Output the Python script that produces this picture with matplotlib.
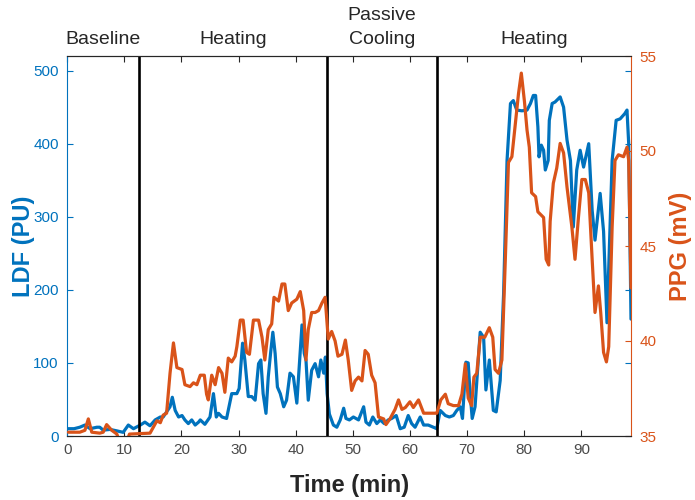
import numpy as np
import matplotlib.pyplot as plt

plt.rcParams['font.family'] = ['Liberation Sans', 'DejaVu Sans']

# ---------------------------------------------------------
# data (time in min)
# ---------------------------------------------------------
ldf_t = [0.2, 1.2, 2.2, 3.1, 4.0, 5.2, 5.7, 6.3, 7.5, 8.7, 9.8, 10.7, 11.6, 12.8, 13.6, 14.5,
         15.4, 16.3, 16.8, 17.4, 18.0, 18.4, 18.9, 19.5, 20.1, 20.6, 21.2, 21.8, 22.4, 23.0,
         23.3, 24.1, 25.0, 25.6, 26.1, 26.5, 27.1, 27.9, 28.8, 29.7, 30.1, 30.7, 31.1, 31.7,
         32.3, 32.9, 33.5, 33.9, 34.3, 34.8, 35.2, 35.6, 36.0, 36.4, 36.8, 37.3, 37.9, 38.4,
         39.0, 39.6, 40.2, 40.7, 41.1, 41.5, 41.8, 42.2, 42.8, 43.4, 44.0, 44.4, 44.9, 45.2,
         45.5, 45.9, 46.6, 47.2, 47.8, 48.4, 48.8, 49.4, 50.1, 51.0, 51.9, 52.3, 52.9, 53.5,
         54.2, 54.8, 55.5, 56.2, 56.8, 57.6, 58.3, 59.0, 59.7, 60.3, 60.9, 61.8, 62.4, 63.2,
         64.1, 64.7, 65.3, 66.2, 66.9, 67.6, 68.2, 68.8, 69.2, 69.8, 70.2, 70.5, 70.9, 71.4,
         72.3, 72.9, 73.3, 73.9, 74.6, 75.1, 75.8, 76.4, 77.0, 77.6, 78.1, 78.7, 79.6, 80.5,
         81.1, 81.6, 82.0, 82.4, 82.6, 83.0, 83.4, 83.7, 84.2, 84.4, 84.9, 85.4, 86.3, 86.9,
         87.5, 88.1, 88.6, 89.2, 89.8, 90.4, 91.3, 91.9, 92.4, 93.3, 93.9, 94.5, 95.4, 96.1,
         96.8, 97.6, 98.0, 98.3, 98.7]
ldf = [10, 10, 12, 15, 10, 12, 12, 8, 9, 7, 5, 15, 10, 15, 19, 14,
       22, 26, 26, 33, 40, 53, 35, 26, 28, 22, 17, 22, 15, 19,
       22, 16, 26, 58, 26, 31, 26, 24, 58, 58, 65, 127, 104, 54,
       54, 49, 99, 104, 58, 31, 81, 113, 142, 113, 67, 58, 40, 49,
       86, 81, 45, 104, 152, 113, 104, 49, 90, 99, 81, 104, 86, 108,
       58, 30, 15, 12, 22, 38, 24, 22, 26, 22, 40, 19, 15, 26,
       17, 22, 17, 22, 24, 28, 10, 12, 28, 17, 12, 26, 15, 15,
       12, 10, 35, 28, 26, 28, 35, 40, 24, 101, 100, 63, 24, 40,
       142, 135, 63, 104, 35, 33, 76, 195, 377, 455, 459, 446, 445, 446,
       455, 466, 466, 423, 382, 398, 391, 364, 377, 432, 455, 457, 464, 450,
       405, 377, 286, 364, 391, 368, 400, 309, 268, 332, 280, 155, 377, 432,
       434, 441, 446, 400, 160]

ppg_t = [0.2, 2.2, 3.1, 3.7, 4.3, 5.7, 6.3, 6.9, 7.8, 8.7, 9.2, 10.3, 10.9, 14.5, 15.7, 16.3,
         16.8, 17.4, 18.0, 18.6, 19.2, 20.1, 20.6, 21.5, 22.1, 22.7, 23.3, 24.0, 24.4, 24.7,
         25.3, 25.9, 26.5, 27.1, 27.6, 28.2, 28.8, 29.4, 29.7, 30.3, 30.8, 31.4, 31.9, 32.6,
         33.5, 34.1, 34.6, 35.2, 35.8, 36.2, 37.0, 37.6, 38.1, 38.7, 39.3, 40.2, 40.8, 41.4,
         41.8, 42.2, 42.8, 43.4, 44.0, 44.6, 45.15, 45.7, 46.3, 46.9, 47.4, 48.1, 48.7, 49.2,
         49.8, 50.4, 51.0, 51.6, 52.15, 52.7, 53.3, 53.9, 54.5, 55.4, 55.8, 56.5, 57.4, 58.0,
         58.6, 59.2, 60.0, 60.6, 61.5, 62.4, 64.7, 65.4, 66.2, 66.7, 67.6, 68.5, 69.1, 69.7,
         70.2, 70.8, 71.2, 71.7, 72.3, 73.1, 73.9, 74.5, 74.9, 75.5, 76.1, 76.7, 77.25, 77.85,
         78.4, 79.0, 79.5, 80.05, 80.5, 80.9, 81.3, 82.0, 82.4, 83.4, 83.85, 84.3, 84.55, 85.1,
         85.7, 86.3, 86.9, 87.5, 88.35, 88.9, 89.5, 90.1, 90.7, 91.3, 91.9, 92.4, 93.0, 93.4,
         93.9, 94.4, 94.8, 95.4, 95.9, 96.5, 97.4, 98.0, 98.3, 98.7]
ppg = [35.2, 35.2, 35.3, 35.9, 35.2, 35.15, 35.2, 35.6, 35.3, 35.1, 34.6, 34.6, 35.1, 35.15, 35.8, 35.7,
       36.1, 36.2, 38.3, 39.9, 38.6, 38.5, 37.7, 37.6, 37.8, 37.7, 38.2, 38.2, 37.2, 36.9,
       38.2, 37.7, 38.6, 38.3, 37.3, 39.1, 38.9, 39.2, 39.7, 41.1, 41.1, 39.4, 39.3, 41.1,
       41.1, 40.2, 39.0, 40.6, 40.9, 42.3, 42.1, 43.0, 43.0, 41.6, 42.0, 42.2, 42.6, 41.6,
       39.0, 40.6, 41.5, 41.5, 41.6, 42.0, 42.3, 40.1, 40.5, 40.0, 39.2, 39.3, 40.05, 39.0,
       37.4, 37.9, 38.1, 37.9, 39.5, 39.3, 38.2, 37.8, 36.0, 35.9, 35.6, 35.9, 36.4, 36.9,
       36.4, 36.5, 36.8, 36.5, 36.9, 36.2, 36.2, 36.9, 37.2, 36.7, 36.6, 36.6, 37.2, 38.8,
       37.0, 36.6, 38.1, 38.3, 40.2, 40.2, 40.7, 40.2, 38.5, 38.3, 39.0, 44.3, 49.4, 49.7,
       51.3, 53.0, 54.1, 52.6, 51.1, 50.2, 47.8, 47.6, 46.8, 46.5, 44.3, 44.0, 46.3, 48.3,
       49.1, 50.4, 49.9, 48.1, 46.0, 44.3, 46.5, 48.5, 48.5, 47.8, 44.3, 41.5, 42.9, 41.5,
       39.4, 38.9, 39.7, 46.0, 49.5, 49.8, 49.7, 50.2, 49.5, 42.8]

phase_edges = [12.6, 45.45, 64.8]
phase_names = ["Baseline", "Heating", "Passive\nCooling", "Heating"]

blue = "#0072BD"
orange = "#D95319"
dark = "#262626"

# ---------------------------------------------------------
# figure
# ---------------------------------------------------------
fig = plt.figure(figsize=(6.95, 5), dpi=100)
ax1 = fig.add_axes([0.0967, 0.128, 0.8112, 0.76])
ax2 = ax1.twinx()

ax1.plot(ldf_t, ldf, color=blue, linewidth=2.3, solid_joinstyle="round",
         solid_capstyle="round")
for x in phase_edges:
    ax1.axvline(x, color="black", linewidth=1.9)
ax2.plot(ppg_t, ppg, color=orange, linewidth=2.3, solid_joinstyle="round",
         solid_capstyle="round")

xmax = 98.7
ax1.set_xlim(0, xmax)
ax1.set_ylim(0, 520)
ax2.set_ylim(35, 55)
ax1.set_xticks(np.arange(0, 100, 10))
ax1.set_yticks(np.arange(0, 501, 100))
ax2.set_yticks(np.arange(35, 56, 5))

# spines
ax1.spines["left"].set_color(blue)
ax1.spines["right"].set_visible(False)
ax2.spines["left"].set_visible(False)
ax2.spines["right"].set_color(orange)
for a in (ax1, ax2):
    a.spines["top"].set_color(dark)
    a.spines["bottom"].set_color(dark)
    for s in a.spines.values():
        s.set_linewidth(0.8)

ax1.tick_params(axis="x", direction="in", top=True, length=4, color=dark,
                labelcolor="#4a4a4a", labelsize=11, pad=5)
ax1.tick_params(axis="y", direction="in", left=True, right=True, length=4,
                color=blue, labelcolor=blue, labelsize=11, pad=6)
ax2.tick_params(axis="y", direction="in", right=True, length=4,
                color=orange, labelcolor=orange, labelsize=11, pad=6)

ax1.set_xlabel("Time (min)", fontsize=17, fontweight="bold", color=dark)
ax1.set_ylabel("LDF (PU)", fontsize=17, fontweight="bold", color=blue)
ax2.set_ylabel("PPG (mV)", fontsize=17, fontweight="bold", color=orange)
ax1.xaxis.set_label_coords(0.5, -0.1)
ax1.yaxis.set_label_coords(-0.058, 0.5)
ax2.yaxis.set_label_coords(1.067, 0.5)

# phase labels above the axes
bounds = [0] + phase_edges + [xmax]
for i, name in enumerate(phase_names):
    mid = (bounds[i] + bounds[i + 1]) / 2
    ax1.annotate(name, xy=(mid, 1), xycoords=("data", "axes fraction"),
                 xytext=(0, 5.5), textcoords="offset points",
                 ha="center", va="bottom", fontsize=14, color=dark,
                 linespacing=1.6, annotation_clip=False)

fig.savefig("out.png", dpi=100)
